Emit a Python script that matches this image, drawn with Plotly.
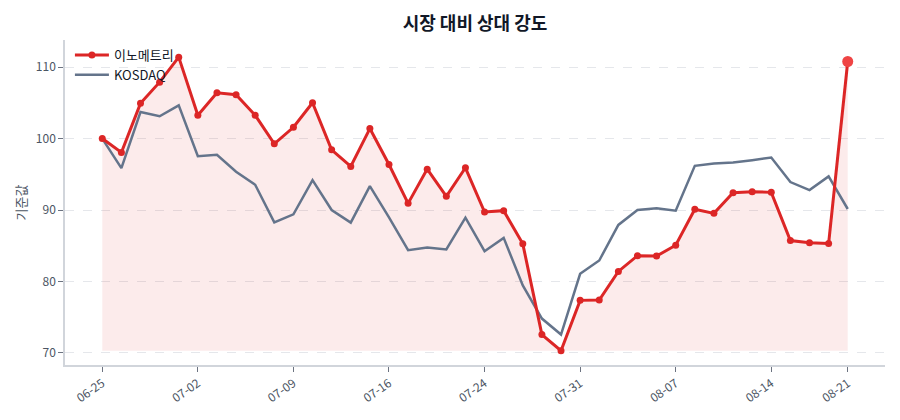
import plotly.graph_objects as go

dates = ["06-25", "06-26", "06-27", "06-30", "07-01", "07-02", "07-03", "07-04", "07-07", "07-08",
         "07-09", "07-10", "07-11", "07-14", "07-15", "07-16", "07-18", "07-21", "07-22", "07-23",
         "07-24", "07-25", "07-28", "07-29", "07-30", "07-31", "08-01", "08-04", "08-05", "08-06",
         "08-07", "08-08", "08-11", "08-12", "08-13", "08-14", "08-18", "08-19", "08-20", "08-21"]

stock = [100.0, 98.05, 104.93, 107.9, 111.4, 103.26, 106.42, 106.14, 103.26, 99.26,
         101.58, 105.02, 98.42, 96.1, 101.4, 96.37, 90.93, 95.72, 91.91, 95.91,
         89.72, 89.91, 85.26, 72.56, 70.3, 77.35, 77.4, 81.4, 83.6, 83.55,
         85.07, 90.1, 89.53, 92.42, 92.56, 92.47, 85.72, 85.4, 85.3, 110.79]

kosdaq = [100.0, 95.86, 103.72, 103.12, 104.65, 97.53, 97.72, 95.35, 93.53, 88.28,
          89.4, 94.19, 90.0, 88.23, 93.35, 88.98, 84.37, 84.74, 84.47, 88.93,
          84.23, 86.1, 79.44, 74.8, 72.56, 81.07, 82.93, 87.91, 90.0, 90.23,
          89.9, 96.19, 96.51, 96.65, 96.98, 97.35, 93.91, 92.79, 94.7, 90.14]

tick_idx = [0, 5, 10, 15, 20, 25, 30, 35, 39]
tick_labels = [dates[i] for i in tick_idx]
y_ticks = [70, 80, 90, 100, 110]

RED = "#dc2626"
GREY = "#64748b"
FONT = "Noto Sans CJK KR"

x = list(range(len(dates)))
base = min(stock)

fig = go.Figure()
fig.add_trace(go.Scatter(x=x, y=[base] * len(x), mode="lines", line=dict(width=0),
                         showlegend=False, hoverinfo="skip"))
fig.add_trace(go.Scatter(x=x, y=stock, mode="lines", line=dict(width=0),
                         fill="tonexty", fillcolor="rgba(220,38,38,0.09)",
                         showlegend=False, hoverinfo="skip"))
fig.add_trace(go.Scatter(x=x, y=kosdaq, mode="lines", name="KOSDAQ",
                         line=dict(color=GREY, width=2.5)))
fig.add_trace(go.Scatter(x=x, y=stock[:-1] + [None], mode="lines+markers", name="이노메트리",
                         line=dict(color=RED, width=3),
                         marker=dict(color=RED, size=7)))
fig.add_trace(go.Scatter(x=x[-2:], y=stock[-2:], mode="lines", showlegend=False,
                         line=dict(color=RED, width=3), hoverinfo="skip"))
fig.add_trace(go.Scatter(x=x[-1:], y=stock[-1:], mode="markers", showlegend=False,
                         marker=dict(color="#ef4444", size=11)))

fig.update_layout(
    width=900, height=420,
    margin=dict(l=57, r=23, t=32, b=63, autoexpand=False),
    paper_bgcolor="white", plot_bgcolor="white",
    font=dict(family=FONT, size=12, color="#374151"),
    title=dict(text="<b>시장 대비 상대 강도</b>", x=0.5, xref="paper", xanchor="center",
               y=0.962, yanchor="middle", font=dict(size=18, color="#111827", family=FONT)),
    legend=dict(x=0.006, y=1.0, xanchor="left", yanchor="top", bgcolor="rgba(0,0,0,0)",
                font=dict(size=13, color="#111827"), traceorder="reversed",
                itemwidth=34),
    showlegend=True,
)
fig.update_xaxes(range=[-1.95, 40.95], tickmode="array", tickvals=tick_idx, ticktext=tick_labels,
                 tickangle=-35, showgrid=False, showline=True, linecolor="#d1d5db", linewidth=1.5,
                 ticks="outside", ticklen=5, tickcolor="#6b7280", automargin=False,
                 tickfont=dict(size=12, color="#4b5563"), zeroline=False)
fig.update_yaxes(range=[68.3, 113.8], tickvals=y_ticks, showgrid=True, gridcolor="#e5e7eb",
                 griddash="dash", gridwidth=1, showline=True, linecolor="#d1d5db", linewidth=1.5,
                 ticks="outside", ticklen=5, tickcolor="#6b7280", automargin=False,
                 tickfont=dict(size=12, color="#4b5563"), zeroline=False,
                 title=dict(text="기준값", font=dict(size=13, color="#4b5563"), standoff=6))

fig.write_html("out.html")
